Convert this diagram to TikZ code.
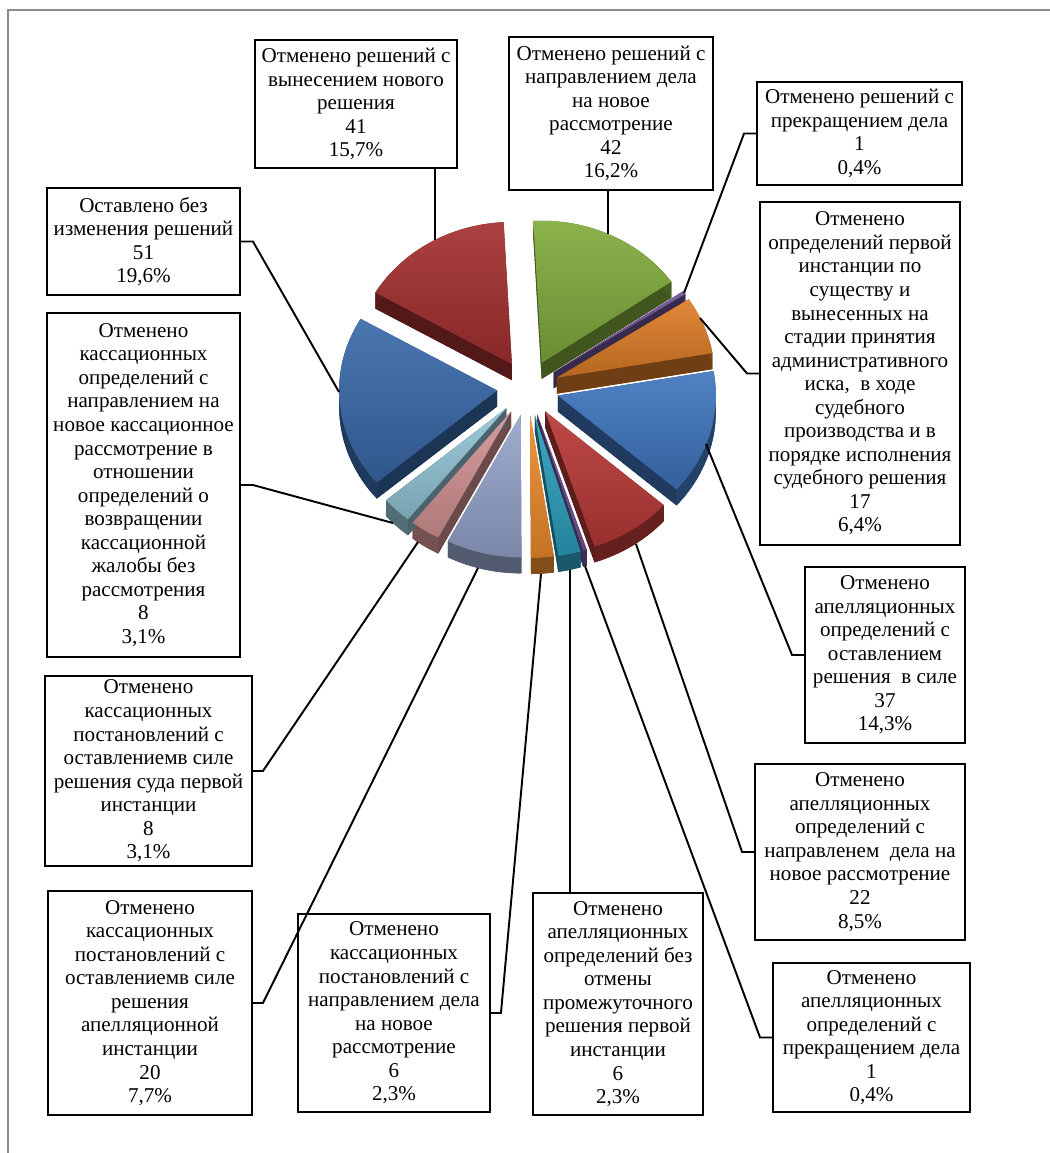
\documentclass[tikz,border=0pt]{standalone}
\usepackage{fontspec}
\setmainfont{Liberation Serif}

\definecolor{pgreen}{RGB}{130,172,62}
\definecolor{pviolet}{RGB}{112,84,152}
\definecolor{porange}{RGB}{222,125,40}
\definecolor{pblue}{RGB}{64,118,190}
\definecolor{pred}{RGB}{185,58,55}
\definecolor{pteal}{RGB}{45,160,190}
\definecolor{porangeb}{RGB}{238,140,45}
\definecolor{plav}{RGB}{150,165,205}
\definecolor{ppink}{RGB}{212,148,148}
\definecolor{plight}{RGB}{148,198,215}
\definecolor{pbluel}{RGB}{58,106,170}
\definecolor{predl}{RGB}{165,48,48}

\begin{document}
\begin{tikzpicture}[x=0.02cm,y=0.02cm,
lbl/.style={draw,line width=1.1pt,fill=white,align=center,inner sep=0pt,
font=\fontsize{12}{13.4}\selectfont},
leader/.style={line width=1.1pt}]
\useasboundingbox (0,0) rectangle (1050,-1153);
\draw[gray!90,line width=1.7pt] (8,-1153) -- (8,-10) -- (1050,-10);

% pie: start/end angle/colour
\def\slices{93/34.846/pgreen, 34.846/33.462/pviolet, 33.462/9.923/porange,
9.923/-41.308/pblue, -41.308/-71.769/pred, -71.769/-73.154/pviolet,
-73.154/-81.462/pteal, -81.462/-89.769/porangeb, -89.769/-117.462/plav,
-117.462/-128.538/ppink, -128.538/-139.615/plight,
-139.615/-210.231/pbluel, -210.231/-267/predl}
\foreach \aa/\ab/\slcol in \slices {
\pgfmathsetmacro\mm{(\aa+\ab)/2}
\pgfmathsetmacro\ox{528+31*cos(\mm)}
\pgfmathsetmacro\oy{-388+27.9*sin(\mm)}
\fill[\slcol!50!black] (\ox,\oy-16) -- ++(\ab:158 and 142.2)
  arc[start angle=\ab,end angle=\aa,x radius=158,y radius=142.2] -- cycle;
\fill[\slcol!50!black] (\ox,\oy) -- ++(\ab:158 and 142.2) -- ++(0,-16) -- (\ox,\oy-16) -- cycle;
\fill[\slcol!50!black] (\ox,\oy) -- ++(\aa:158 and 142.2) -- ++(0,-16) -- (\ox,\oy-16) -- cycle;
\fill[\slcol!55!black] (\ox,\oy) ++(\ab:158 and 142.2)
  arc[start angle=\ab,end angle=\aa,x radius=158,y radius=142.2] -- ++(0,-16)
  arc[start angle=\aa,end angle=\ab,x radius=158,y radius=142.2] -- cycle;
}
\foreach \aa/\ab/\slcol in \slices {
\pgfmathsetmacro\mm{(\aa+\ab)/2}
\pgfmathsetmacro\ox{528+31*cos(\mm)}
\pgfmathsetmacro\oy{-388+27.9*sin(\mm)}
\shade[top color=\slcol!92!white,bottom color=\slcol!82!black]
  (\ox,\oy) -- ++(\ab:158 and 142.2)
  arc[start angle=\ab,end angle=\aa,x radius=158,y radius=142.2] -- cycle;
}

% label boxes
\node[lbl,minimum width=4.04cm,minimum height=2.56cm] (newdec) at (356,-104)
{Отменено решений с\\вынесением нового\\решения\\41\\15,7\%};
\node[lbl,minimum width=4.08cm,minimum height=3.06cm] (newcons) at (611,-113.5)
{Отменено решений с\\направлением дела\\на новое\\рассмотрение\\42\\16,2\%};
\node[lbl,minimum width=4.10cm,minimum height=2.06cm] (stop1) at (859.5,-133.5)
{Отменено решений с\\прекращением дела\\1\\0,4\%};
\node[lbl,minimum width=4.00cm,minimum height=6.86cm] (firstinst) at (860,-373.5)
{Отменено\\определений первой\\инстанции по\\существу и\\вынесенных на\\стадии принятия\\административного\\иска,~ в ходе\\судебного\\производства и в\\порядке исполнения\\судебного решения\\17\\6,4\%};
\node[lbl,minimum width=3.86cm,minimum height=2.14cm] (unchanged) at (143.5,-241.5)
{Оставлено без\\изменения решений\\51\\19,6\%};
\node[lbl,minimum width=3.86cm,minimum height=6.88cm] (kassdef) at (143.5,-485)
{Отменено\\кассационных\\определений с\\направлением на\\новое кассационное\\рассмотрение в\\отношении\\определений о\\возвращении\\кассационной\\жалобы без\\рассмотрения\\8\\3,1\%};
\node[lbl,minimum width=4.14cm,minimum height=3.80cm] (kasspost1) at (148.5,-771)
{Отменено\\кассационных\\постановлений с\\оставлениемв силе\\решения суда первой\\инстанции\\8\\3,1\%};
\node[lbl,minimum width=4.08cm,minimum height=4.48cm] (kasspost2) at (150,-1003)
{Отменено\\кассационных\\постановлений с\\оставлениемв силе\\решения\\апелляционной\\инстанции\\20\\7,7\%};
\node[lbl,minimum width=3.84cm,minimum height=3.96cm] (kassnew) at (394,-1013)
{Отменено\\кассационных\\постановлений с\\направлением дела\\на новое\\рассмотрение\\6\\2,3\%};
\node[lbl,minimum width=3.40cm,minimum height=4.44cm] (apelnointer) at (618,-1004)
{Отменено\\апелляционных\\определений без\\отмены\\промежуточного\\решения первой\\инстанции\\6\\2,3\%};
\node[lbl,minimum width=3.94cm,minimum height=2.98cm] (apelstop) at (871.5,-1037.5)
{Отменено\\апелляционных\\определений с\\прекращением дела\\1\\0,4\%};
\node[lbl,minimum width=4.20cm,minimum height=3.52cm] (apelnew) at (860,-852)
{Отменено\\апелляционных\\определений с\\направленем~ дела на\\новое рассмотрение\\22\\8,5\%};
\node[lbl,minimum width=3.20cm,minimum height=3.52cm] (apelkeep) at (885,-655)
{Отменено\\апелляционных\\определений с\\оставлением\\решения~ в силе\\37\\14,3\%};

% leader ends on the slices
\coordinate (pA) at (435,-240);
\coordinate (pB) at (608,-234);
\coordinate (pC) at (684,-293);
\coordinate (pD) at (700,-318);
\coordinate (pM) at (706,-444);
\coordinate (pL) at (636,-544);
\coordinate (pK) at (585,-566);
\coordinate (pJ) at (570,-570);
\coordinate (pI) at (541,-574);
\coordinate (pH) at (478,-568);
\coordinate (pG) at (418,-542);
\coordinate (pF) at (393,-523);
\coordinate (pE) at (339,-392);

\draw[leader] (pA) -- (pA |- newdec.south);
\draw[leader] (pB) -- (pB |- newcons.south);
\draw[leader] (stop1.west) -- ++(-12,0) -- (pC);
\draw[leader] (firstinst.west) -- ++(-12,0) -- (pD);
\draw[leader] (apelkeep.west) -- ++(-12,0) -- (pM);
\draw[leader] (apelnew.west) -- ++(-12,0) -- (pL);
\draw[leader] (apelstop.west) -- ++(-12,0) -- (pK);
\draw[leader] (pJ) -- (pJ |- apelnointer.north);
\draw[leader] (kassnew.east) -- ++(10,0) -- (pI);
\draw[leader] (kasspost2.east) -- ++(10,0) -- (pH);
\draw[leader] (kasspost1.east) -- ++(10,0) -- (pG);
\draw[leader] (kassdef.east) -- ++(12,0) -- (pF);
\draw[leader] (unchanged.east) -- ++(12,0) -- (pE);
\end{tikzpicture}
\end{document}
